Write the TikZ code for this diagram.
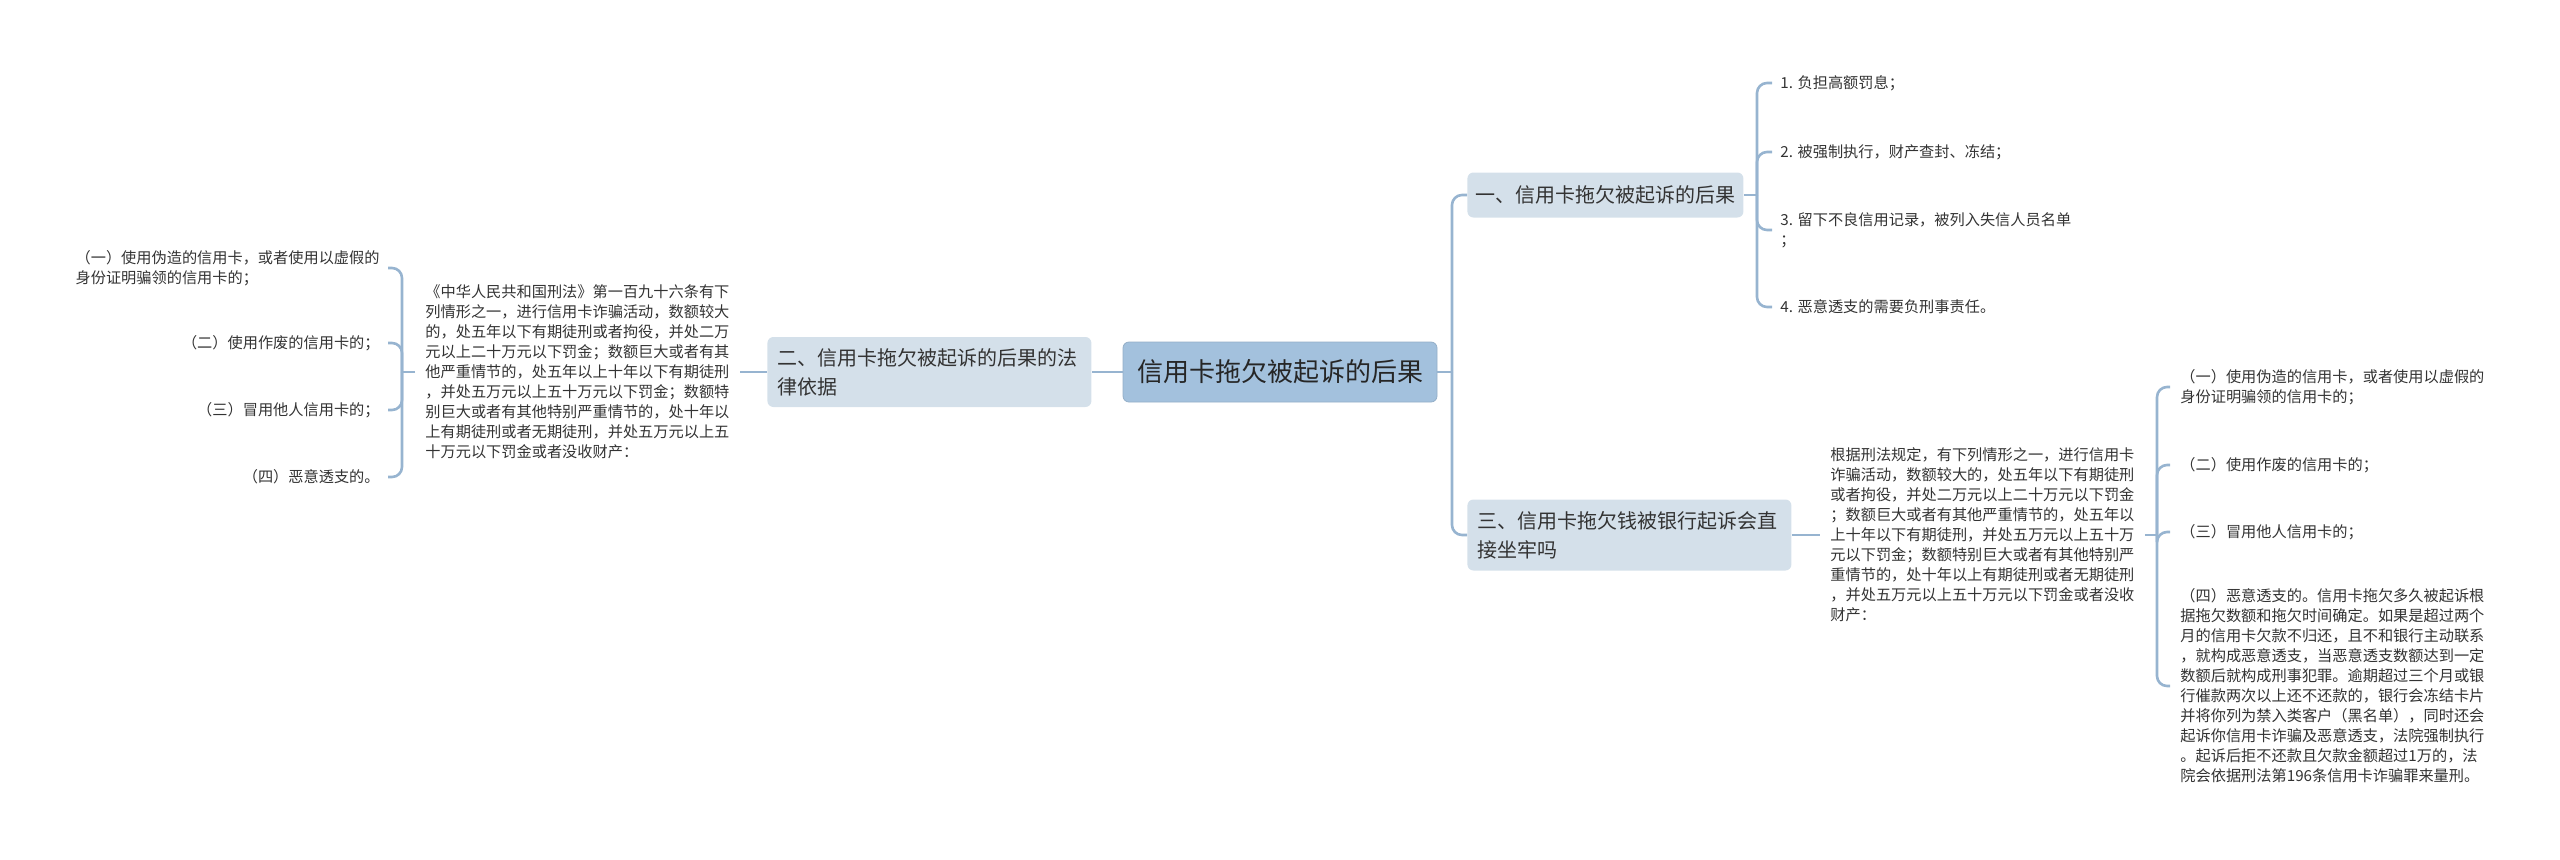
\documentclass[tikz,border=0pt]{standalone}
\usepackage{fontspec}
\setmainfont{Noto Sans CJK SC}
\definecolor{lc}{HTML}{97B4D0}
\definecolor{rootfill}{HTML}{A3C1DD}
\definecolor{boxfill}{HTML}{D4E0EA}
\definecolor{tc}{HTML}{333333}
\begin{document}
\begin{tikzpicture}[x=0.5pt,y=-0.5pt,
  conn/.style={draw=lc,line width=1.3pt,rounded corners=5pt},
  rootbox/.style={rectangle,rounded corners=3pt,fill=rootfill,draw=rootfill!90!black,line width=0.4pt,inner xsep=7pt,minimum height=30pt,font=\fontsize{13}{16}\selectfont,text=black!85},
  secbox/.style={rectangle,rounded corners=3pt,fill=boxfill,inner xsep=4pt,inner ysep=4pt,align=left,font=\fontsize{10}{14.5}\selectfont,text=black!80},
  leaf/.style={inner xsep=4pt,inner ysep=1pt,align=left,font=\fontsize{7.6}{10}\selectfont,text=tc},
  block/.style={inner xsep=5pt,inner ysep=1pt,align=left,font=\fontsize{7.6}{10}\selectfont,text=tc}]
\useasboundingbox (0,0) rectangle (2560,859);

% root
\node[rootbox] (root) at (1280,372) {信用卡拖欠被起诉的后果};

% left branch
\node[secbox,anchor=west,minimum height=35pt,text width=152pt,inner xsep=5pt] (b2) at (767,372) {二、信用卡拖欠被起诉的后果的法\\律依据};
\node[block,anchor=west] (lb) at (415,372) {《中华人民共和国刑法》第一百九十六条有下\\列情形之一，进行信用卡诈骗活动，数额较大\\的，处五年以下有期徒刑或者拘役，并处二万\\元以上二十万元以下罚金；数额巨大或者有其\\他严重情节的，处五年以上十年以下有期徒刑\\，并处五万元以上五十万元以下罚金；数额特\\别巨大或者有其他特别严重情节的，处十年以\\上有期徒刑或者无期徒刑，并处五万元以上五\\十万元以下罚金或者没收财产：};
\node[leaf,anchor=east] (l1) at (388,268) {（一）使用伪造的信用卡，或者使用以虚假的\\身份证明骗领的信用卡的；};
\node[leaf,anchor=east] (l2) at (388,343) {（二）使用作废的信用卡的；};
\node[leaf,anchor=east] (l3) at (388,410) {（三）冒用他人信用卡的；};
\node[leaf,anchor=east] (l4) at (388,477) {（四）恶意透支的。};

% right branches
\node[secbox,anchor=west,minimum height=22.5pt] (b1) at (1467,195) {一、信用卡拖欠被起诉的后果};
\node[secbox,anchor=west,minimum height=35.5pt,text width=152pt,inner xsep=5pt] (b3) at (1467,535) {三、信用卡拖欠钱被银行起诉会直\\接坐牢吗};

\node[leaf,anchor=west] (r1) at (1772,83) {1. 负担高额罚息；};
\node[leaf,anchor=west] (r2) at (1772,152) {2. 被强制执行，财产查封、冻结；};
\node[leaf,anchor=west] (r3) at (1772,230) {3. 留下不良信用记录，被列入失信人员名单\\；};
\node[leaf,anchor=west] (r4) at (1772,307) {4. 恶意透支的需要负刑事责任。};

\node[block,anchor=west] (rb) at (1820,535) {根据刑法规定，有下列情形之一，进行信用卡\\诈骗活动，数额较大的，处五年以下有期徒刑\\或者拘役，并处二万元以上二十万元以下罚金\\；数额巨大或者有其他严重情节的，处五年以\\上十年以下有期徒刑，并处五万元以上五十万\\元以下罚金；数额特别巨大或者有其他特别严\\重情节的，处十年以上有期徒刑或者无期徒刑\\，并处五万元以上五十万元以下罚金或者没收\\财产：};

\node[block,anchor=west] (s1) at (2170,387) {（一）使用伪造的信用卡，或者使用以虚假的\\身份证明骗领的信用卡的；};
\node[block,anchor=west] (s2) at (2170,465) {（二）使用作废的信用卡的；};
\node[block,anchor=west] (s3) at (2170,532) {（三）冒用他人信用卡的；};
\node[block,anchor=west] (s4) at (2170,686) {（四）恶意透支的。信用卡拖欠多久被起诉根\\据拖欠数额和拖欠时间确定。如果是超过两个\\月的信用卡欠款不归还，且不和银行主动联系\\，就构成恶意透支，当恶意透支数额达到一定\\数额后就构成刑事犯罪。逾期超过三个月或银\\行催款两次以上还不还款的，银行会冻结卡片\\并将你列为禁入类客户（黑名单），同时还会\\起诉你信用卡诈骗及恶意透支，法院强制执行\\。起诉后拒不还款且欠款金额超过1万的，法\\院会依据刑法第196条信用卡诈骗罪来量刑。};

% trunk coordinates
\coordinate (tR) at (1452,372);
\coordinate (tL) at (402,372);
\coordinate (tB1) at (1757,195);
\coordinate (tS) at (2157,535);

% connectors
\draw[conn] (root.west) -- (b2.east);
\draw[conn] (b2.west) -- (lb.east);
\draw[conn] (lb.west) -- (tL);
\draw[conn] (tL) |- (l1.east);
\draw[conn] (tL) |- (l2.east);
\draw[conn] (tL) |- (l3.east);
\draw[conn] (tL) |- (l4.east);

\draw[conn] (root.east) -- (tR);
\draw[conn] (tR) |- (b1.west);
\draw[conn] (tR) |- (b3.west);

\draw[conn] (b1.east) -- (tB1);
\draw[conn] (tB1) |- (r1.west);
\draw[conn] (tB1) |- (r2.west);
\draw[conn] (tB1) |- (r3.west);
\draw[conn] (tB1) |- (r4.west);

\draw[conn] (b3.east) -- (rb.west);
\draw[conn] (rb.east) -- (tS);
\draw[conn] (tS) |- (s1.west);
\draw[conn] (tS) |- (s2.west);
\draw[conn] (tS) |- (s3.west);
\draw[conn] (tS) |- (s4.west);
\end{tikzpicture}
\end{document}
